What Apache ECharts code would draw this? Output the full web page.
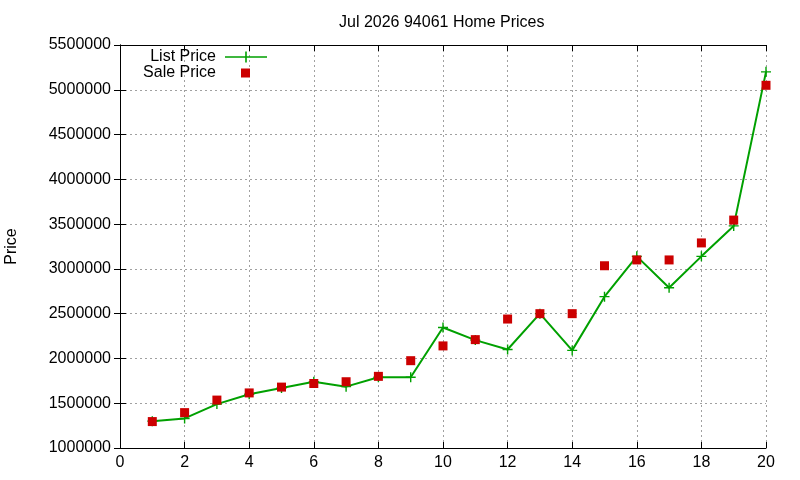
<!DOCTYPE html>
<html lang="en">
  <head>
    <meta charset="UTF-8" />
    <title>Home Prices</title>
    <style>
      html, body { margin: 0; padding: 0; background: #fff; }
      #main { width: 800px; height: 480px; }
    </style>
  </head>
  <body>
    <script src="https://cdn.jsdelivr.net/npm/echarts@6/dist/echarts.js"></script>
    <div id="main"></div>
    <script>
      // values
      const months = [1, 2, 3, 4, 5, 6, 7, 8, 9, 10, 11, 12, 13, 14, 15, 16, 17, 18, 19, 20]
      const listPrice = [1300000, 1330000, 1490000, 1600000, 1670000, 1740000, 1685000, 1790000, 1790000, 2345000,
        2205000, 2100000, 2500000, 2090000, 2690000, 3140000, 2790000, 3140000, 3480000, 5200000]
      const salePrice = [1295000, 1395000, 1535000, 1615000, 1680000, 1720000, 1740000, 1800000, 1975000, 2140000,
        2210000, 2440000, 2500000, 2500000, 3035000, 3100000, 3100000, 3290000, 3545000, 5050000]

      const font = 'Liberation Sans, Arial, sans-serif'
      const plus = 'path://M4.3,0H5.7V10H4.3ZM0,4.3H10V5.7H0Z'
      const gridLine = { show: true, lineStyle: { color: '#a0a0a0', type: [2, 3], width: 1 } }
      const border = { show: true, lineStyle: { color: '#000', width: 1 } }
      const ticks = { show: true, inside: true, length: 6, lineStyle: { color: '#000' } }
      const labelText = { color: '#000', fontSize: 16, fontFamily: font }

      const chart = echarts.init(document.getElementById('main'))
      chart.setOption({
        animation: false,
        backgroundColor: '#fff',
        textStyle: { fontFamily: font },
        title: {
          text: 'Jul 2026 94061 Home Prices',
          left: 334,
          top: 10,
          textStyle: { fontSize: 16, fontWeight: 'normal', color: '#000', fontFamily: font }
        },
        legend: [
          {
            data: [{ name: 'List Price', icon: 'path://M0,5.2H42V6.8H0ZM20.2,0.5H21.8V11.5H20.2Z' }],
            right: 528,
            top: 44,
            align: 'right',
            itemWidth: 42,
            itemHeight: 12,
            textStyle: { ...labelText, padding: [0, 4, 0, 0] }
          },
          {
            data: [{ name: 'Sale Price', icon: 'path://M0,0H0.01V0.01H0ZM42,10H41.99V9.99H42ZM16,0.5H25V9.5H16Z' }],
            right: 528,
            top: 60,
            align: 'right',
            itemWidth: 42,
            itemHeight: 10,
            textStyle: { ...labelText, padding: [0, 4, 0, 0] }
          }
        ],
        grid: { left: 120, right: 34, top: 45, bottom: 32, containLabel: false, outerBoundsMode: 'none' },
        xAxis: [
          {
            type: 'value', min: 0, max: 20, interval: 2,
            axisLine: border, axisTick: ticks, splitLine: gridLine,
            axisLabel: { ...labelText, margin: 7 }
          },
          {
            type: 'value', position: 'top', min: 0, max: 20, interval: 2,
            axisLine: border, axisTick: ticks, splitLine: { show: false },
            axisLabel: { show: false }
          }
        ],
        yAxis: [
          {
            type: 'value', min: 1000000, max: 5500000, interval: 500000,
            name: 'Price', nameLocation: 'middle', nameGap: 100, nameRotate: 90,
            nameTextStyle: labelText,
            axisLine: border, axisTick: ticks, splitLine: gridLine,
            axisLabel: { ...labelText, margin: 9, formatter: v => String(v) }
          },
          {
            type: 'value', position: 'right', min: 1000000, max: 5500000, interval: 500000,
            axisLine: border, axisTick: ticks, splitLine: { show: false },
            axisLabel: { show: false }
          }
        ],
        series: [
          {
            name: 'List Price',
            type: 'line',
            data: months.map((m, i) => [m, listPrice[i]]),
            symbol: plus,
            symbolSize: 10,
            showAllSymbol: true,
            lineStyle: { color: '#00a000', width: 2 },
            itemStyle: { color: '#00a000' },
            z: 2
          },
          {
            name: 'Sale Price',
            type: 'scatter',
            data: months.map((m, i) => [m, salePrice[i]]),
            symbol: 'rect',
            symbolSize: 9,
            itemStyle: { color: '#cc0000', opacity: 1 },
            z: 3
          }
        ]
      })
    </script>
  </body>
</html>
